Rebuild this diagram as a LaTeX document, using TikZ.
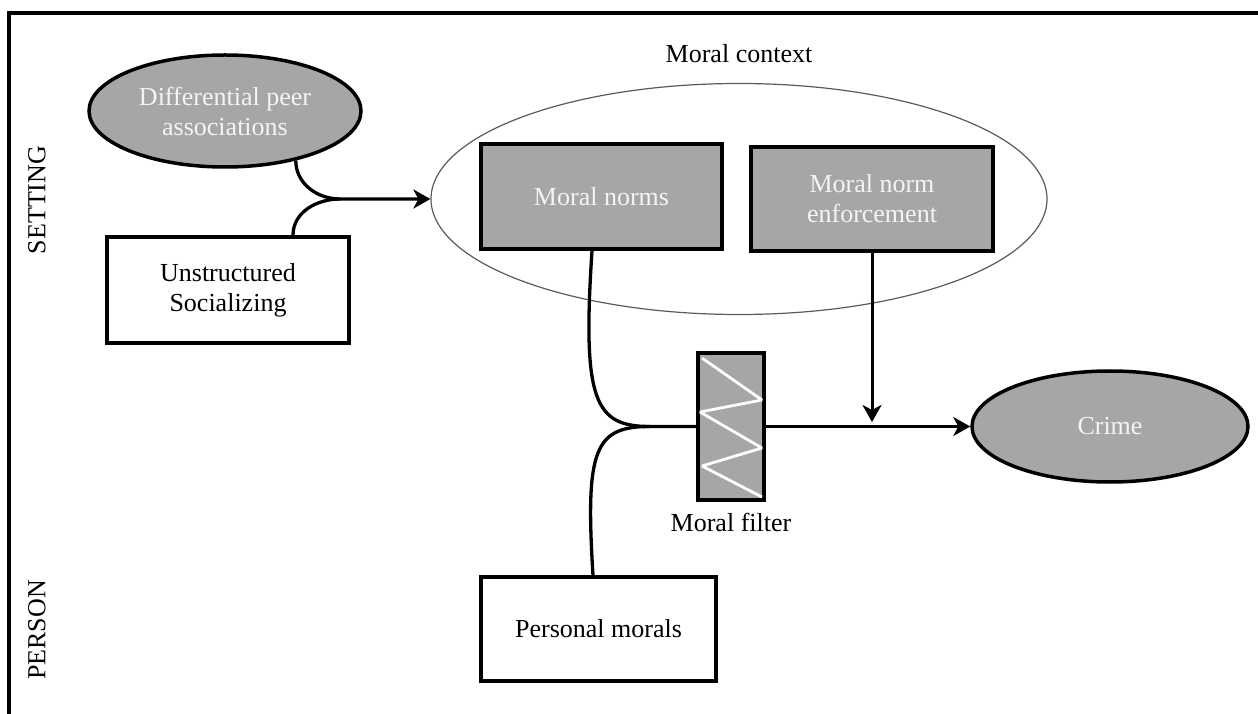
\documentclass[tikz,border=0pt]{standalone}
\usepackage{fontspec}
\setmainfont{Liberation Serif}
\usetikzlibrary{arrows.meta,shapes.geometric}
\definecolor{shade}{HTML}{A6A6A6}
\definecolor{pale}{HTML}{F4F4F4}
\definecolor{rim}{HTML}{5A5A5A}
\begin{document}
\begin{tikzpicture}[x=1pt,y=1pt,
  every node/.style={font=\fontsize{26}{30}\selectfont, align=center},
  box/.style={draw, line width=3.5pt, rectangle, inner sep=0pt},
  darkbox/.style={box, fill=shade, text=pale},
  blob/.style={draw, line width=3.5pt, ellipse, fill=shade, text=pale, inner sep=0pt},
  conn/.style={line width=3.3pt},
  tip/.style={-{Stealth[length=17pt,width=19pt,inset=5pt]}},
]
\useasboundingbox (0,0) rectangle (1258,713);
% outer frame
\draw[line width=3.5pt] (9,-10) -- (9,700) -- (1270,700);

% nodes
\node[blob, minimum width=272pt, minimum height=112pt] (dpa) at (225,602) {Differential peer\\associations};
\node[box, minimum width=242pt, minimum height=106pt] (us) at (228,423) {Unstructured\\Socializing};
\node[draw=rim, line width=1.2pt, ellipse, minimum width=616pt, minimum height=231pt, inner sep=0pt] (mc) at (739,514) {};
\node (mcl) at (739,659) {Moral context};
\node[darkbox, minimum width=241pt, minimum height=105pt] (mn) at (601.5,516.5) {Moral norms};
\node[darkbox, minimum width=242pt, minimum height=104pt] (mne) at (872,514) {Moral norm\\enforcement};
\node[box, fill=shade, minimum width=66pt, minimum height=147pt] (mf) at (731,286.5) {};
\node (mfl) at (731,191) {Moral filter};
\node[blob, minimum width=276pt, minimum height=111pt] (cr) at (1110,286.5) {Crime};
\node[box, minimum width=235pt, minimum height=104pt] (pm) at (598.5,84) {Personal morals};
\node[rotate=90] (set) at (37,513) {SETTING};
\node[rotate=90] (per) at (37,83) {PERSON};

% filter zigzag
\begin{scope}[shift={(mf.center)}]
\draw[white, line width=2.8pt, line join=bevel] (-29,68.5) -- (31,26.5) -- (-31,14.5) -- (31,-21.5) -- (-29,-39.5) -- (31,-70.5);
\end{scope}

% junction points
\coordinate (j1) at (340,514);
\coordinate (j2) at (650,286.5);
\coordinate (ea) at (872,291);

% connectors
\draw[conn,tip] (dpa.-35) to[out=-90,in=180] (j1) -- (mc.west);
\draw[conn] ([xshift=65pt]us.north) to[out=90,in=180] (j1);
\draw[conn] ([xshift=-9.5pt]mn.south) .. controls +(-10,-151) and +(-55,0) .. (j2) -- (mf.west);
\draw[conn] ([xshift=-5.5pt]pm.north) .. controls +(-8,127) and +(-55,0) .. (j2);
\draw[conn,tip] (mf.east) -- (cr.west);
\draw[line width=3pt,tip] (mne.south) -- (ea);
\end{tikzpicture}
\end{document}
